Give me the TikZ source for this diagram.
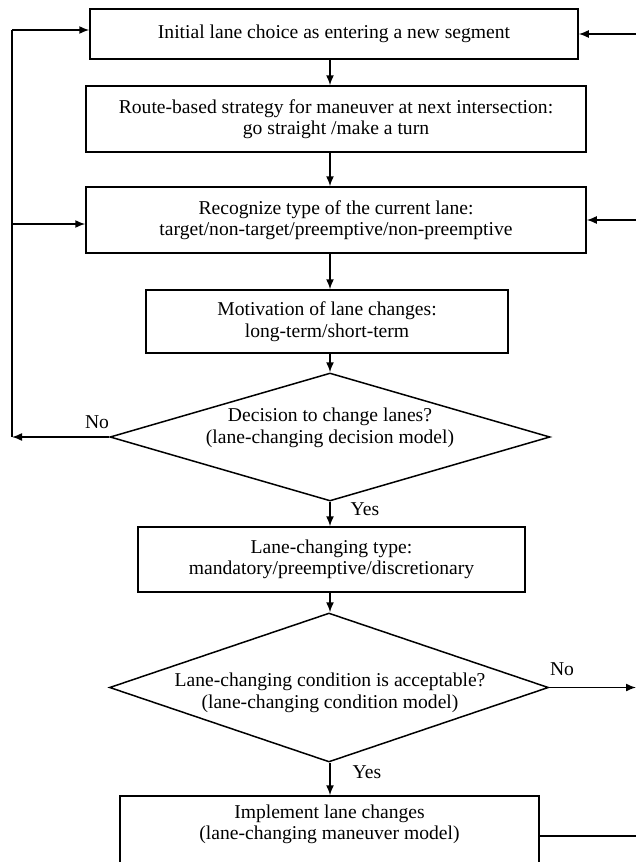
\documentclass[tikz,border=0pt]{standalone}
\usepackage{fontspec}
\setmainfont{Liberation Serif}
\usetikzlibrary{shapes.geometric,arrows.meta}
\begin{document}
\begin{tikzpicture}[x=1pt,y=-1pt,
  every node/.style={font=\fontsize{19.6}{21.5}\selectfont},
  box/.style={draw,line width=1.5pt,inner sep=0pt,align=center},
  dia/.style={draw,diamond,line width=1.5pt,inner sep=0pt},
  lbl/.style={inner sep=0pt},
  arr/.style={line width=1.5pt,-{Latex[length=10pt,width=8pt]}},
  ln/.style={line width=1.5pt}]
\useasboundingbox (0,0) rectangle (636,862);
\node[box,minimum width=488pt,minimum height=50pt] (b1) at (334,34) {Initial lane choice as entering a new segment};
\node[box,minimum width=500pt,minimum height=66pt] (b2) at (336,119) {Route-based strategy for maneuver at next intersection:\\go straight /make a turn};
\node[box,minimum width=500pt,minimum height=66pt] (b3) at (336,220) {Recognize type of the current lane:\\target/non-target/preemptive/non-preemptive};
\node[box,minimum width=362pt,minimum height=63pt] (b4) at (327,321.5) {Motivation of lane changes:\\long-term/short-term};
\node[dia,minimum width=440pt,minimum height=128pt] (d1) at (330,437) {};
\node[lbl,align=center] (t1) at (330,428) {Decision to change lanes?\\(lane-changing decision model)};
\node[box,minimum width=387pt,minimum height=65pt] (b5) at (331.5,559.5) {Lane-changing type:\\mandatory/preemptive/discretionary};
\node[dia,minimum width=439pt,minimum height=149pt] (d2) at (329,687.5) {};
\node[lbl,align=center] (t2) at (330,693) {Lane-changing condition is acceptable?\\(lane-changing condition model)};
\node[box,minimum width=419pt,minimum height=80pt] (b6) at (329.5,836) {Implement lane changes\\(lane-changing maneuver model)\\\strut};
\node[lbl] (no1) at (97,422) {No};
\node[lbl] (no2) at (562,669) {No};
\node[lbl] (yes1) at (365,509) {Yes};
\node[lbl] (yes2) at (367,772) {Yes};
\coordinate (L1) at (12,30);
\coordinate (L3) at (12,224);
\coordinate (L4) at (12,437);
\coordinate (R1) at (636,34);
\coordinate (R3) at (636,220);
\coordinate (R5) at (636,687.5);
\coordinate (R6) at (636,836);
\draw[arr] (b1.south -| 330,0) -- (b2.north -| 330,0);
\draw[arr] (b2.south -| 330,0) -- (b3.north -| 330,0);
\draw[arr] (b3.south -| 330,0) -- (b4.north -| 330,0);
\draw[arr] (b4.south -| 330,0) -- (d1.north);
\draw[arr] (d1.south) -- (b5.north -| d1.south);
\draw[arr] (b5.south -| 330,0) -- (d2.north -| 330,0);
\draw[arr] (d2.south -| 330,0) -- (b6.north -| 330,0);
\draw[arr] (d1.west) -- (L4);
\draw[ln] (L4) -- (L1);
\draw[arr] (L1) -- (b1.west |- L1);
\draw[arr] (L3) -- (b3.west |- L3);
\draw[arr] (R1) -- (b1.east |- R1);
\draw[arr] (R3) -- (b3.east |- R3);
\draw[arr] (d2.east) -- (R5);
\draw[ln] (b6.east |- R6) -- (R6);
\end{tikzpicture}
\end{document}
